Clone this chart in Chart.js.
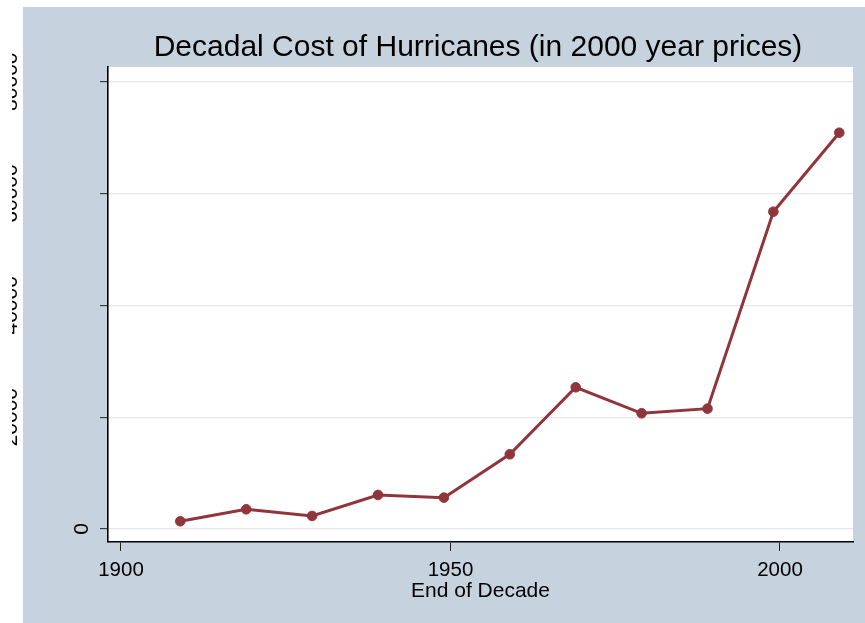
<!DOCTYPE html>
<html>
<head>
<meta charset="utf-8">
<title>Decadal Cost of Hurricanes</title>
<script src="https://cdn.jsdelivr.net/npm/chart.js@4/dist/chart.umd.min.js"></script>
<style>
    html, body { margin: 0; padding: 0; background: #fff; }
    #frame { position: absolute; left: 12px; top: 0; width: 853px; height: 623px; overflow: hidden; }
    #costChart { position: absolute; left: -12px; top: 0; }
</style>
</head>
<body>
<div id="frame">
    <canvas id="costChart" width="865" height="623"></canvas>
</div>
<script>
// Decadal hurricane cost, end of decade vs cost (2000 prices)

const decadeEnds = [1909, 1919, 1929, 1939, 1949, 1959, 1969, 1979, 1989, 1999, 2009];
const decadeCosts = [1380, 3520, 2330, 6080, 5600, 13360, 25340, 20690, 21520, 56750, 70880];
const xTicks = [1900, 1950, 2000];
const yTicks = [0, 20000, 40000, 60000, 80000];

const lineColor = '#90353b';
const regionColor = '#c6d3df';
const fontFamily = '"Liberation Sans", Arial, sans-serif';

Chart.defaults.font.family = fontFamily;
Chart.defaults.color = '#000';

// Background: white margin, bluish graph region, white plot region
const backgroundPlugin = {
    id: 'regions',
    beforeDraw(chart) {
        const ctx = chart.ctx;
        const area = chart.chartArea;
        ctx.save();
        ctx.fillStyle = '#fff';
        ctx.fillRect(0, 0, chart.width, chart.height);
        ctx.fillStyle = regionColor;
        ctx.fillRect(23, 7, chart.width - 23, chart.height - 7);
        ctx.fillStyle = '#fff';
        ctx.fillRect(area.left, area.top, area.right - area.left, area.bottom - area.top);
        ctx.restore();
    }
};

// Rotated y labels, pushed out by their own length like the original
const yLabelPlugin = {
    id: 'yLabels',
    afterDraw(chart) {
        const scale = chart.scales.y;
        const ctx = chart.ctx;
        const tickStart = scale.right - scale.options.grid.tickLength;
        ctx.save();
        ctx.font = '21px ' + fontFamily;
        ctx.fillStyle = '#000';
        ctx.textAlign = 'center';
        ctx.textBaseline = 'middle';
        scale.ticks.forEach(tick => {
            const label = String(tick.value);
            const w = ctx.measureText(label).width;
            ctx.save();
            ctx.translate(tickStart + 0.5 - 1.53 * w, scale.getPixelForValue(tick.value));
            ctx.rotate(-Math.PI / 2);
            ctx.fillText(label, 0, 0);
            ctx.restore();
        });
        ctx.restore();
    }
};

const points = decadeEnds.map((year, i) => ({ x: year, y: decadeCosts[i] }));

new Chart(document.getElementById('costChart'), {
    type: 'line',
    data: {
        datasets: [{
            label: 'Cost',
            data: points,
            borderColor: lineColor,
            backgroundColor: lineColor,
            borderWidth: 3,
            pointRadius: 4.8,
            pointBorderWidth: 1,
            pointBackgroundColor: lineColor,
            pointBorderColor: lineColor,
            tension: 0,
            fill: false
        }]
    },
    options: {
        responsive: false,
        animation: false,
        layout: {
            padding: { left: 103, right: 12, top: 0, bottom: 0 }
        },
        plugins: {
            legend: { display: false },
            tooltip: { enabled: false },
            title: {
                display: true,
                text: 'Decadal Cost of Hurricanes (in 2000 year prices)',
                color: '#000',
                font: { size: 30, weight: 'normal' },
                padding: { top: 29.5, bottom: 1.5 }
            }
        },
        scales: {
            x: {
                type: 'linear',
                min: 1898.03,
                max: 2011.08,
                afterBuildTicks: function(scale) {
                    scale.ticks = xTicks.map(v => ({ value: v }));
                },
                afterFit: function(scale) {
                    scale.height = 81;
                    scale.paddingLeft = 0;
                    scale.paddingRight = 0;
                },
                grid: {
                    drawOnChartArea: false,
                    drawTicks: true,
                    tickLength: 9,
                    tickColor: '#222',
                    tickWidth: 1
                },
                border: { display: true, color: '#000', width: 1.6 },
                ticks: {
                    padding: 7,
                    color: '#000',
                    maxRotation: 0,
                    font: { size: 20.5 },
                    callback: function(value) {
                        return String(value);
                    }
                },
                title: {
                    display: true,
                    text: 'End of Decade',
                    color: '#000',
                    font: { size: 21 },
                    padding: { top: 0, bottom: 19.4 }
                }
            },
            y: {
                min: -2330,
                max: 82630,
                afterBuildTicks: function(scale) {
                    scale.ticks = yTicks.map(v => ({ value: v }));
                },
                afterFit: function(scale) {
                    scale.width = 5;
                },
                grid: {
                    color: '#e6e8ea',
                    lineWidth: 1.3,
                    drawTicks: true,
                    tickLength: 8,
                    tickColor: '#222',
                    tickWidth: 1
                },
                border: { display: true, color: '#000', width: 1.6 },
                ticks: { display: false }
            }
        }
    },
    plugins: [backgroundPlugin, yLabelPlugin]
});
</script>
</body>
</html>
